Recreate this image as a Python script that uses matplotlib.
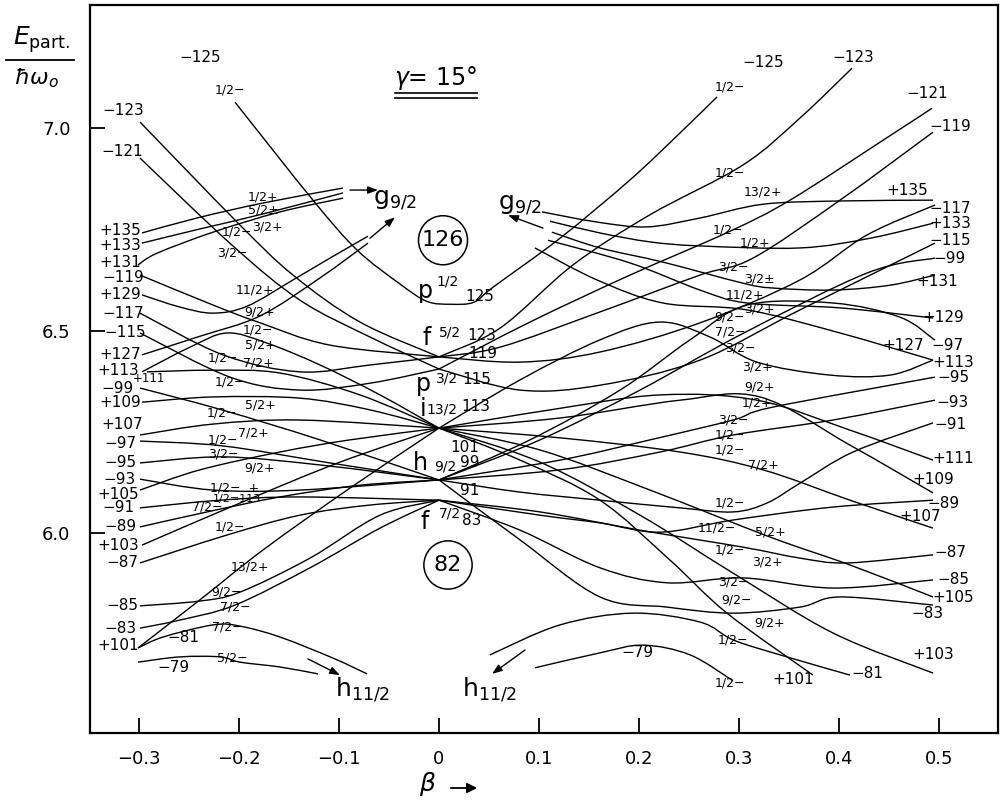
import numpy as np
import matplotlib
matplotlib.use("Agg")
import matplotlib.pyplot as plt
from matplotlib.path import Path
from matplotlib.patches import PathPatch, FancyArrowPatch
from matplotlib.lines import Line2D

# --- Data (beta, E_part / hbar omega_0) ---
X_TICKS = [-0.3, -0.2, -0.1, 0.0, 0.1, 0.2, 0.3, 0.4, 0.5]
X_TICK_LABELS = ["-0.3", "-0.2", "-0.1", "0", "0.1", "0.2", "0.3", "0.4", "0.5"]
Y_TICKS = [6.0, 6.5, 7.0]
Y_TICK_LABELS = ["6.0", "6.5", "7.0"]

# p1/2 orbit, runs across both sides
P12_CURVE = ([-0.204, -0.126, -0.082, -0.039, -0.012, 0.012, 0.035, 0.054, 0.121, 0.191, 0.241, 0.278],
             [7.064, 6.822, 6.699, 6.615, 6.572, 6.565, 6.570, 6.607, 6.728, 6.872, 6.988, 7.077])

# oblate side (beta < 0)
OBLATE_CURVES = [
    ([-0.299, -0.202, -0.146, -0.079, 0], [7.015, 6.768, 6.637, 6.521, 6.435]),           # -123
    ([-0.299, -0.207, -0.139, -0.069, 0], [6.926, 6.711, 6.575, 6.484, 6.405]),           # -121
    ([-0.297, -0.242, -0.176, -0.096], [6.741, 6.778, 6.815, 6.852]),                     # +135
    ([-0.297, -0.239, -0.176, -0.096], [6.716, 6.751, 6.788, 6.840]),                     # +133
    ([-0.301, -0.282, -0.226, -0.159, -0.096], [6.662, 6.691, 6.743, 6.793, 6.827]),      # +131
    ([-0.299, -0.226, -0.181, -0.109, 0], [6.637, 6.563, 6.521, 6.464, 6.435]),           # -119
    ([-0.297, -0.259, -0.226, -0.192, -0.146, -0.109, -0.071],
     [6.588, 6.558, 6.543, 6.560, 6.625, 6.679, 6.733]),                                  # +129
    ([-0.297, -0.239, -0.179, -0.119, -0.071], [6.440, 6.486, 6.536, 6.630, 6.716]),      # +127
    ([-0.299, -0.216, -0.139, -0.069, 0], [6.543, 6.440, 6.398, 6.415, 6.435]),           # -117
    ([-0.299, -0.209, -0.139, -0.069, 0], [6.494, 6.385, 6.353, 6.370, 6.405]),           # -115
    ([-0.297, -0.249, -0.212, -0.172, -0.119, -0.059, 0],
     [6.398, 6.459, 6.494, 6.469, 6.415, 6.341, 6.259]),                                  # +113
    ([-0.292, -0.226, -0.159, -0.079, 0], [6.398, 6.402, 6.395, 6.341, 6.259]),           # +111
    ([-0.299, -0.217, -0.119, 0], [6.358, 6.304, 6.230, 6.131]),                          # -99
    ([-0.297, -0.226, -0.139, -0.069, 0], [6.323, 6.336, 6.333, 6.304, 6.259]),           # +109
    ([-0.299, -0.226, -0.139, 0], [6.242, 6.269, 6.279, 6.259]),                          # +107
    ([-0.299, -0.216, -0.109, 0], [6.227, 6.215, 6.173, 6.131]),                          # -97
    ([-0.299, -0.216, -0.119, 0], [6.173, 6.188, 6.168, 6.131]),                          # -95
    ([-0.299, -0.226, -0.139, 0], [6.133, 6.106, 6.106, 6.131]),                          # -93
    ([-0.299, -0.239, -0.159, -0.089, 0], [6.106, 6.156, 6.200, 6.230, 6.259]),           # +105
    ([-0.299, -0.219, -0.139, 0], [6.062, 6.081, 6.089, 6.081]),                          # -91
    ([-0.299, -0.232, -0.159, -0.079, 0], [6.015, 6.052, 6.089, 6.118, 6.131]),           # -89
    ([-0.297, -0.199, -0.099, 0], [5.970, 6.074, 6.175, 6.259]),                          # +103
    ([-0.299, -0.212, -0.139, -0.069, 0], [5.926, 5.995, 6.044, 6.069, 6.081]),           # -87
    ([-0.299, -0.239, -0.199, -0.129, -0.059, 0], [5.820, 5.832, 5.854, 5.938, 6.044, 6.081]),  # -85
    ([-0.299, -0.259, -0.204, -0.129, -0.059, 0], [5.765, 5.785, 5.822, 5.914, 6.012, 6.081]),  # -83
    ([-0.301, -0.239, -0.176, -0.089, 0], [5.716, 5.835, 5.958, 6.111, 6.259]),           # +101
    ([-0.301, -0.276, -0.226, -0.199, -0.159, -0.106, -0.072],
     [5.716, 5.743, 5.773, 5.770, 5.743, 5.691, 5.652]),                                  # -81
    ([-0.301, -0.259, -0.219, -0.199, -0.159, -0.121],
     [5.681, 5.694, 5.694, 5.681, 5.669, 5.652]),                                         # -79
]

# prolate side (beta > 0)
PROLATE_CURVES = [
    ([0, 0.061, 0.134, 0.211, 0.304, 0.361, 0.413], [6.435, 6.506, 6.662, 6.786, 6.909, 7.025, 7.148]),  # -123
    ([0, 0.091, 0.191, 0.289, 0.351, 0.444, 0.493], [6.405, 6.521, 6.637, 6.743, 6.822, 6.970, 7.049]),  # -121
    ([0, 0.061, 0.161, 0.261, 0.314, 0.401, 0.494], [6.435, 6.459, 6.546, 6.637, 6.679, 6.822, 6.990]),  # -119
    ([0, 0.081, 0.161, 0.261, 0.361, 0.428, 0.496], [6.435, 6.422, 6.447, 6.519, 6.625, 6.736, 6.810]),  # -117
    ([0, 0.081, 0.161, 0.261, 0.361, 0.496], [6.405, 6.353, 6.365, 6.427, 6.551, 6.716]),                # -115
    ([0, 0.101, 0.201, 0.301, 0.428, 0.496], [6.131, 6.230, 6.353, 6.489, 6.642, 6.679]),                # -99
    ([0, 0.091, 0.181, 0.251, 0.308, 0.394, 0.461, 0.496],
     [6.131, 6.230, 6.353, 6.477, 6.563, 6.568, 6.533, 6.476]),                                          # -97
    ([0, 0.121, 0.211, 0.294, 0.334, 0.496], [6.131, 6.180, 6.230, 6.279, 6.311, 6.385]),                # -95
    ([0, 0.121, 0.221, 0.294, 0.394, 0.496], [6.131, 6.156, 6.200, 6.242, 6.279, 6.328]),                # -93
    ([0, 0.081, 0.161, 0.241, 0.294, 0.328, 0.361, 0.414, 0.494],
     [6.131, 6.101, 6.081, 6.062, 6.052, 6.074, 6.123, 6.200, 6.272]),                                   # -91
    ([0, 0.101, 0.161, 0.221, 0.294, 0.394, 0.494], [6.081, 6.044, 6.025, 6.002, 6.032, 6.064, 6.081]),  # -89
    ([0, 0.101, 0.201, 0.304, 0.361, 0.408, 0.494], [6.081, 6.052, 6.007, 5.965, 5.938, 5.926, 5.946]),  # -87
    ([0, 0.081, 0.161, 0.228, 0.304, 0.394, 0.494], [6.081, 6.007, 5.914, 5.877, 5.889, 5.864, 5.884]),  # -85
    ([0, 0.081, 0.161, 0.228, 0.294, 0.361, 0.401, 0.494],
     [6.131, 5.983, 5.842, 5.817, 5.802, 5.817, 5.842, 5.822]),                                          # -83
    ([0.051, 0.121, 0.194, 0.261, 0.294, 0.341, 0.411], [5.699, 5.773, 5.802, 5.780, 5.736, 5.699, 5.649]),  # -81
    ([0.096, 0.161, 0.204, 0.251, 0.294], [5.667, 5.704, 5.723, 5.699, 5.635]),                          # -79
    ([0.103, 0.158, 0.208, 0.261, 0.324, 0.401, 0.494], [6.793, 6.768, 6.756, 6.778, 6.812, 6.820, 6.822]),  # +135
    ([0.111, 0.161, 0.211, 0.261, 0.361, 0.431, 0.494], [6.770, 6.741, 6.719, 6.709, 6.704, 6.728, 6.765]),  # +133
    ([0.113, 0.161, 0.224, 0.304, 0.334, 0.394, 0.451, 0.496],
     [6.743, 6.704, 6.669, 6.617, 6.605, 6.600, 6.612, 6.637]),                                          # +131
    ([0.109, 0.191, 0.261, 0.308, 0.401, 0.494], [6.723, 6.667, 6.600, 6.568, 6.556, 6.531]),            # +129
    ([0.096, 0.158, 0.224, 0.308, 0.401, 0.494], [6.704, 6.625, 6.568, 6.551, 6.494, 6.427]),            # +127
    ([0, 0.081, 0.161, 0.221, 0.271, 0.318, 0.391, 0.451, 0.494],
     [6.259, 6.378, 6.477, 6.521, 6.484, 6.422, 6.390, 6.390, 6.427]),                                   # +113
    ([0, 0.111, 0.221, 0.318, 0.411, 0.494], [6.259, 6.304, 6.341, 6.328, 6.254, 6.180]),                # +111
    ([0, 0.121, 0.241, 0.321, 0.411, 0.494], [6.259, 6.284, 6.328, 6.336, 6.217, 6.099]),                # +109
    ([0, 0.121, 0.241, 0.324, 0.411, 0.494], [6.259, 6.235, 6.200, 6.156, 6.081, 6.012]),                # +107
    ([0, 0.101, 0.211, 0.331, 0.411, 0.494], [6.259, 6.205, 6.106, 5.990, 5.921, 5.842]),                # +105
    ([0, 0.101, 0.201, 0.294, 0.394, 0.494], [6.259, 6.175, 6.044, 5.901, 5.753, 5.654]),                # +103
    ([0, 0.081, 0.161, 0.231, 0.288, 0.374], [6.259, 6.180, 6.081, 5.933, 5.802, 5.649]),                # +101
]

# arrows toward the g9/2 and h11/2 shells: (beta0, E0, beta1, E1)
SHELL_ARROWS = [
    (-0.089, 6.847, -0.061, 6.847),
    (-0.069, 6.728, -0.044, 6.780),
    (0.104, 6.753, 0.069, 6.785),
    (-0.131, 5.689, -0.099, 5.649),
    (0.086, 5.711, 0.053, 5.652),
]

# level numbers at the ends of the curves
LEFT_NUMBERS = [
    ("-125", -0.239, 7.175), ("-123", -0.316, 7.044), ("-121", -0.317, 6.941),
    ("+135", -0.319, 6.748), ("+133", -0.319, 6.711), ("+131", -0.319, 6.669),
    ("-119", -0.316, 6.632), ("+129", -0.319, 6.588), ("-117", -0.316, 6.543),
    ("-115", -0.314, 6.494), ("+127", -0.319, 6.440), ("+113", -0.321, 6.402),
    ("-99", -0.321, 6.358), ("+109", -0.319, 6.323), ("+107", -0.317, 6.267),
    ("-97", -0.319, 6.222), ("-95", -0.319, 6.173), ("-93", -0.319, 6.133),
    ("+105", -0.321, 6.094), ("-91", -0.321, 6.062), ("-89", -0.319, 6.015),
    ("+103", -0.321, 5.970), ("-87", -0.317, 5.926), ("-85", -0.317, 5.820),
    ("-83", -0.319, 5.765), ("+101", -0.321, 5.721), ("-81", -0.256, 5.743),
    ("-79", -0.266, 5.669),
]
RIGHT_NUMBERS = [
    ("-125", 0.324, 7.163), ("-123", 0.414, 7.175), ("-121", 0.488, 7.086),
    ("-119", 0.511, 7.005), ("+135", 0.468, 6.847), ("-117", 0.511, 6.802),
    ("+133", 0.511, 6.765), ("-115", 0.511, 6.723), ("-99", 0.511, 6.679),
    ("+131", 0.498, 6.620), ("+129", 0.504, 6.533), ("+127", 0.464, 6.464),
    ("-97", 0.508, 6.464), ("+113", 0.514, 6.420), ("-95", 0.514, 6.383),
    ("-93", 0.514, 6.323), ("-91", 0.511, 6.267), ("+111", 0.514, 6.185),
    ("+109", 0.494, 6.131), ("-89", 0.504, 6.074), ("+107", 0.481, 6.040),
    ("-87", 0.511, 5.951), ("-85", 0.514, 5.886), ("+105", 0.514, 5.840),
    ("-83", 0.488, 5.802), ("+103", 0.494, 5.699), ("-81", 0.428, 5.654),
    ("+101", 0.354, 5.637), ("-79", 0.198, 5.704),
]
CENTER_NUMBERS = [
    ("125", 0.041, 6.583), ("123", 0.043, 6.489), ("119", 0.044, 6.444),
    ("115", 0.038, 6.378), ("113", 0.037, 6.313), ("101", 0.026, 6.210),
    ("99", 0.031, 6.175), ("91", 0.031, 6.106), ("83", 0.033, 6.032),
]

M = "\u2212"
OMEGA_LEFT = [
    ("1/2" + M, -0.209, 7.094), ("1/2+", -0.176, 6.830), ("5/2\u00b1", -0.176, 6.798),
    ("3/2+", -0.172, 6.756), ("1/2" + M, -0.202, 6.743), ("3/2" + M, -0.207, 6.691),
    ("11/2+", -0.184, 6.600), ("9/2+", -0.179, 6.546), ("1/2" + M, -0.181, 6.501),
    ("5/2+", -0.179, 6.464), ("1/2" + M, -0.216, 6.432), ("7/2+", -0.181, 6.420),
    ("1/2" + M, -0.209, 6.373), ("5/2+", -0.179, 6.316), ("1/2" + M, -0.217, 6.296),
    ("7/2+", -0.186, 6.247), ("1/2" + M, -0.216, 6.229), ("3/2" + M, -0.216, 6.194),
    ("9/2+", -0.179, 6.160), ("1/2" + M + "  +", -0.204, 6.111),
    ("7/2" + M, -0.232, 6.064), ("1/2" + M, -0.209, 6.015), ("13/2+", -0.189, 5.916),
    ("9/2" + M, -0.212, 5.854), ("7/2" + M, -0.204, 5.817), ("7/2" + M, -0.212, 5.768),
    ("5/2" + M, -0.207, 5.691),
]
OMEGA_SMALL = [("1/2=113", -0.202, 6.084)]
OMEGA_RIGHT = [
    ("1/2" + M, 0.291, 7.101), ("1/2" + M, 0.291, 6.889), ("13/2+", 0.324, 6.842),
    ("1/2" + M, 0.289, 6.748), ("1/2+", 0.316, 6.716), ("3/2" + M, 0.294, 6.657),
    ("3/2\u00b1", 0.320, 6.628), ("11/2+", 0.306, 6.589), ("3/2+", 0.320, 6.553),
    ("9/2" + M, 0.291, 6.533), ("7/2" + M, 0.291, 6.496), ("3/2" + M, 0.301, 6.457),
    ("3/2+", 0.318, 6.410), ("9/2+", 0.321, 6.360), ("1/2+", 0.318, 6.321),
    ("3/2" + M, 0.294, 6.279), ("1/2" + M, 0.291, 6.242), ("1/2" + M, 0.291, 6.205),
    ("7/2+", 0.324, 6.168), ("1/2" + M, 0.291, 6.074), ("11/2" + M, 0.278, 6.012),
    ("5/2+", 0.331, 6.002), ("1/2" + M, 0.291, 5.958), ("3/2+", 0.328, 5.928),
    ("3/2" + M, 0.294, 5.879), ("9/2" + M, 0.298, 5.835), ("9/2+", 0.331, 5.778),
    ("1/2" + M, 0.294, 5.736), ("1/2" + M, 0.291, 5.630),
]

# spherical shell-model labels at beta = 0: orbital letter and j value
SHELL_LETTERS = [("p", -0.014, 6.598), ("f", -0.012, 6.481), ("p", -0.016, 6.368),
                 ("i", -0.016, 6.306), ("h", -0.019, 6.173), ("f", -0.014, 6.027)]
SHELL_J = [("1/2", 0.009, 6.620), ("5/2", 0.011, 6.494), ("3/2", 0.008, 6.382),
           ("13/2", 0.003, 6.306), ("9/2", 0.006, 6.163), ("7/2", 0.011, 6.049)]
# target shells of the arrows
TARGET_LABELS = [(r"g$_{9/2}$", -0.044, 6.822), (r"g$_{9/2}$", 0.081, 6.810),
                 (r"h$_{11/2}$", -0.076, 5.612), (r"h$_{11/2}$", 0.051, 5.612)]
MAGIC = [("126", 0.004, 6.723, 0.15), ("82", 0.009, 5.921, 0.45)]


def smooth_path(bs, es):
    # Catmull-Rom through the read points, drawn as cubic Bezier pieces
    pts = np.column_stack([bs, es]).astype(float)
    n = len(pts)
    verts = [pts[0]]
    codes = [Path.MOVETO]
    for i in range(n - 1):
        p0 = pts[i - 1] if i > 0 else pts[i]
        p1, p2 = pts[i], pts[i + 1]
        p3 = pts[i + 2] if i + 2 < n else pts[i + 1]
        verts += [p1 + (p2 - p0) / 6.0, p2 - (p3 - p1) / 6.0, p2]
        codes += [Path.CURVE4] * 3
    return Path(verts, codes)


fig = plt.figure(figsize=(10.01, 8.02), dpi=100)
ax = fig.add_axes([90 / 1001, 69 / 802, 908 / 1001, 0.9077])

for bs, es in [P12_CURVE] + OBLATE_CURVES + PROLATE_CURVES:
    ax.add_patch(PathPatch(smooth_path(bs, es), fill=False, lw=1.0, ec="black"))

for b0, e0, b1, e1 in SHELL_ARROWS:
    ax.annotate("", xy=(b1, e1), xytext=(b0, e0),
                arrowprops=dict(arrowstyle="-|>,head_length=0.6,head_width=0.22",
                                lw=1.0, color="black", shrinkA=0, shrinkB=0))

for txt, b, e in LEFT_NUMBERS + RIGHT_NUMBERS:
    ax.text(b, e, txt.replace("-", M), fontsize=11, ha="center", va="center")
ax.text(-0.290, 6.381, "+111", fontsize=8.5, ha="center", va="center")
for txt, b, e in CENTER_NUMBERS:
    ax.text(b, e, txt, fontsize=11, ha="center", va="center")
for txt, b, e in OMEGA_LEFT + OMEGA_RIGHT:
    ax.text(b, e, txt, fontsize=9, ha="center", va="center")
for txt, b, e in OMEGA_SMALL:
    ax.text(b, e, txt, fontsize=8, ha="center", va="center")
for txt, b, e in SHELL_LETTERS:
    ax.text(b, e, txt, fontsize=17, ha="center", va="center")
for txt, b, e in SHELL_J:
    ax.text(b, e, txt, fontsize=10, ha="center", va="center")
for txt, b, e in TARGET_LABELS:
    ax.text(b, e, txt, fontsize=18, ha="center", va="center")
for txt, b, e, pad in MAGIC:
    ax.text(b, e, txt, fontsize=16, ha="center", va="center",
            bbox=dict(boxstyle="circle,pad=%.2f" % pad, fc="none", ec="black", lw=1.1))

# gamma label with double underline
ax.text(-0.004, 7.123, r"$\gamma$= 15°", fontsize=17, ha="center", va="center")
ax.plot([-0.044, 0.038], [7.087, 7.087], color="black", lw=1.2)
ax.plot([-0.044, 0.038], [7.075, 7.075], color="black", lw=1.2)

ax.set_xlim(-0.349, 0.559)
ax.set_ylim(5.506, 7.304)
ax.set_xticks(X_TICKS)
ax.set_xticklabels([t.replace("-", M) for t in X_TICK_LABELS])
ax.set_yticks(Y_TICKS)
ax.set_yticklabels(Y_TICK_LABELS)
ax.tick_params(direction="in", length=11, width=1.3, labelsize=13, pad=12)
ax.tick_params(axis="y", pad=14)
for s in ax.spines.values():
    s.set_linewidth(1.6)

# axis titles in the corner and under the axis
fig.text(42 / 1001, 1 - 40 / 802, r"$E_{\rm part.}$", fontsize=18, ha="center", va="center")
fig.add_artist(Line2D([6 / 1001, 74 / 1001], [1 - 60 / 802] * 2, transform=fig.transFigure,
                      color="black", lw=1.3))
fig.text(36 / 1001, 1 - 78 / 802, r"$\hbar\omega_o$", fontsize=16, ha="center", va="center")
fig.text(428 / 1001, 1 - 784 / 802, r"$\beta$", fontsize=18, ha="center", va="center")
fig.add_artist(FancyArrowPatch(
    (448 / 1001, 1 - 788 / 802), (480 / 1001, 1 - 788 / 802), transform=fig.transFigure,
    arrowstyle="-|>,head_length=6,head_width=3", lw=1.3, color="black"))

fig.savefig("out.png", dpi=100)
